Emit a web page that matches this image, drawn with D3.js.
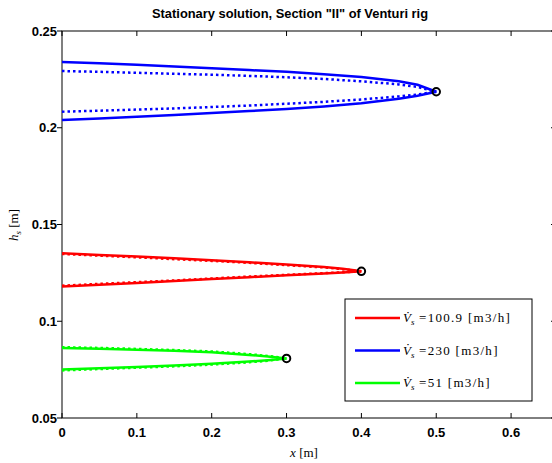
<!DOCTYPE html>
<html>
<head>
<meta charset="utf-8">
<script src="https://cdn.jsdelivr.net/npm/d3@7"></script>
<style>
  body { margin: 0; background: #fff; }
  svg { display: block; }
  .tick-label { font-family: "Liberation Sans", Arial, sans-serif; font-weight: bold; font-size: 13px; }
  .tex { font-family: "Liberation Serif", "DejaVu Serif", serif; font-size: 13px; }
</style>
</head>
<body>
<div id="chart"></div>
<script>
// flow rates shown in the legend
const flowLabels = ["100.9", "230", "51"];
const colors = ["#ff0000", "#0000ff", "#00ff00"];

// x positions along the section [m]
const xRed = [0, 0.05, 0.1, 0.15, 0.2, 0.25, 0.3, 0.35, 0.375, 0.4];
const xBlue = [0, 0.05, 0.1, 0.15, 0.2, 0.25, 0.3, 0.35, 0.4, 0.45, 0.475, 0.5];
const xGreen = [0, 0.05, 0.1, 0.15, 0.2, 0.25, 0.275, 0.3];

// free surface heights, solid = model, dotted = comparison
const redUpper = [0.1352, 0.1343, 0.1334, 0.1325, 0.1315, 0.1305, 0.1293, 0.1280, 0.1271, 0.1258];
const redLower = [0.1180, 0.1189, 0.1198, 0.1208, 0.1218, 0.1228, 0.1238, 0.1247, 0.1252, 0.1258];
const redUpperDot = [0.1348, 0.1339, 0.1330, 0.1321, 0.1312, 0.1302, 0.1290, 0.1278, 0.1269, 0.1258];
const redLowerDot = [0.1184, 0.1193, 0.1202, 0.1211, 0.1221, 0.1231, 0.1240, 0.1249, 0.1253, 0.1258];

const blueUpper = [0.2340, 0.2333, 0.2325, 0.2316, 0.2307, 0.2298, 0.2289, 0.2277, 0.2262, 0.2240, 0.2222, 0.2186];
const blueLower = [0.2040, 0.2048, 0.2057, 0.2066, 0.2076, 0.2086, 0.2097, 0.2110, 0.2127, 0.2150, 0.2165, 0.2186];
const blueUpperDot = [0.2293, 0.2289, 0.2284, 0.2279, 0.2274, 0.2268, 0.2261, 0.2252, 0.2240, 0.2224, 0.2211, 0.2186];
const blueLowerDot = [0.2083, 0.2088, 0.2094, 0.2100, 0.2107, 0.2115, 0.2124, 0.2134, 0.2146, 0.2162, 0.2172, 0.2186];

const greenUpper = [0.0862, 0.0858, 0.0853, 0.0847, 0.0840, 0.0826, 0.0818, 0.0808];
const greenLower = [0.0750, 0.0757, 0.0764, 0.0771, 0.0780, 0.0792, 0.0799, 0.0808];
const greenUpperDot = [0.0866, 0.0862, 0.0857, 0.0851, 0.0844, 0.0830, 0.0821, 0.0808];
const greenLowerDot = [0.0746, 0.0753, 0.0760, 0.0767, 0.0776, 0.0788, 0.0796, 0.0808];

// tip points (circles)
const tipX = [0.4, 0.5, 0.3];
const tipY = [0.1258, 0.2186, 0.0808];

const xTicks = [0, 0.1, 0.2, 0.3, 0.4, 0.5, 0.6];
const yTicks = [0.05, 0.1, 0.15, 0.2, 0.25];

const width = 552, height = 463;
const mLeft = 62, mTop = 31, mRight = 556, mBottom = 418;

const x = d3.scaleLinear().domain([0, 0.66]).range([mLeft, mRight]);
const y = d3.scaleLinear().domain([0.05, 0.25]).range([mBottom, mTop]);

const svg = d3.select("#chart").append("svg")
  .attr("width", width).attr("height", height);

svg.append("defs").append("clipPath").attr("id", "clip")
  .append("rect").attr("x", mLeft).attr("y", mTop)
  .attr("width", mRight - mLeft).attr("height", mBottom - mTop);

// axes box
svg.append("rect")
  .attr("x", mLeft).attr("y", mTop)
  .attr("width", mRight - mLeft).attr("height", mBottom - mTop)
  .attr("fill", "none").attr("stroke", "#000").attr("stroke-width", 1);

const tickLen = 5;
xTicks.forEach(t => {
  svg.append("line").attr("x1", x(t)).attr("x2", x(t))
    .attr("y1", mBottom).attr("y2", mBottom - tickLen).attr("stroke", "#000");
  svg.append("line").attr("x1", x(t)).attr("x2", x(t))
    .attr("y1", mTop).attr("y2", mTop + tickLen).attr("stroke", "#000");
  svg.append("text").attr("class", "tick-label")
    .attr("x", x(t)).attr("y", 437).attr("text-anchor", "middle")
    .text(t === 0 ? "0" : d3.format(".1f")(t));
});
yTicks.forEach(t => {
  svg.append("line").attr("x1", mLeft).attr("x2", mLeft - tickLen)
    .attr("y1", y(t)).attr("y2", y(t)).attr("stroke", "#000");
  svg.append("line").attr("x1", mRight).attr("x2", mRight - tickLen)
    .attr("y1", y(t)).attr("y2", y(t)).attr("stroke", "#000");
  svg.append("text").attr("class", "tick-label")
    .attr("x", mLeft - 5).attr("y", y(t) + 4.5).attr("text-anchor", "end")
    .text(d3.format("")(t));
});

// curves
const line = d3.line().x(d => x(d[0])).y(d => y(d[1]));
const series = [
  { xs: xRed, solid: [redUpper, redLower], dotted: [redUpperDot, redLowerDot] },
  { xs: xBlue, solid: [blueUpper, blueLower], dotted: [blueUpperDot, blueLowerDot] },
  { xs: xGreen, solid: [greenUpper, greenLower], dotted: [greenUpperDot, greenLowerDot] }
];
const plot = svg.append("g").attr("clip-path", "url(#clip)");
series.forEach((s, i) => {
  s.dotted.forEach(vals => {
    plot.append("path").attr("d", line(s.xs.map((v, j) => [v, vals[j]])))
      .attr("fill", "none").attr("stroke", colors[i]).attr("stroke-width", 2.5)
      .attr("stroke-dasharray", "2.5,3");
  });
  s.solid.forEach(vals => {
    plot.append("path").attr("d", line(s.xs.map((v, j) => [v, vals[j]])))
      .attr("fill", "none").attr("stroke", colors[i]).attr("stroke-width", 2.5);
  });
});
tipX.forEach((t, i) => {
  plot.append("circle").attr("cx", x(t)).attr("cy", y(tipY[i])).attr("r", 3.75)
    .attr("fill", "none").attr("stroke", "#000").attr("stroke-width", 2);
});

// title and labels
svg.append("text")
  .attr("x", 290).attr("y", 18).attr("text-anchor", "middle")
  .attr("font-family", "Liberation Sans, Arial, sans-serif")
  .attr("font-weight", "bold").attr("font-size", 12)
  .attr("textLength", 276).attr("lengthAdjust", "spacingAndGlyphs")
  .text("Stationary solution, Section \"II\" of Venturi rig");

const xl = svg.append("text").attr("class", "tex")
  .attr("x", 304).attr("y", 457).attr("text-anchor", "middle");
xl.append("tspan").attr("font-style", "italic").text("x");
xl.append("tspan").text(" [m]");

const yl = svg.append("text").attr("class", "tex")
  .attr("transform", "translate(18,225) rotate(-90)").attr("text-anchor", "middle");
yl.append("tspan").attr("font-style", "italic").text("h");
yl.append("tspan").attr("font-style", "italic").attr("font-size", 9).attr("dy", 3).text("s");
yl.append("tspan").attr("dy", -3).text(" [m]");

// legend
const lg = svg.append("g");
lg.append("rect").attr("x", 345).attr("y", 299).attr("width", 187).attr("height", 102)
  .attr("fill", "#fff").attr("stroke", "#000").attr("stroke-width", 1);
flowLabels.forEach((lab, i) => {
  const ly = 318 + i * 32.5;
  lg.append("line").attr("x1", 355).attr("x2", 400).attr("y1", ly).attr("y2", ly)
    .attr("stroke", colors[i]).attr("stroke-width", 2.5);
  const t = lg.append("text").attr("class", "tex").attr("font-size", 13)
    .attr("x", 403).attr("y", ly + 4);
  t.append("tspan").attr("font-style", "italic").text("V\u0307");
  t.append("tspan").attr("font-style", "italic").attr("font-size", 9).attr("dy", 3).text("s");
  t.append("tspan").attr("dy", -3).attr("letter-spacing", 1.3).text(" =" + lab + " [m3/h]");
});
</script>
</body>
</html>
